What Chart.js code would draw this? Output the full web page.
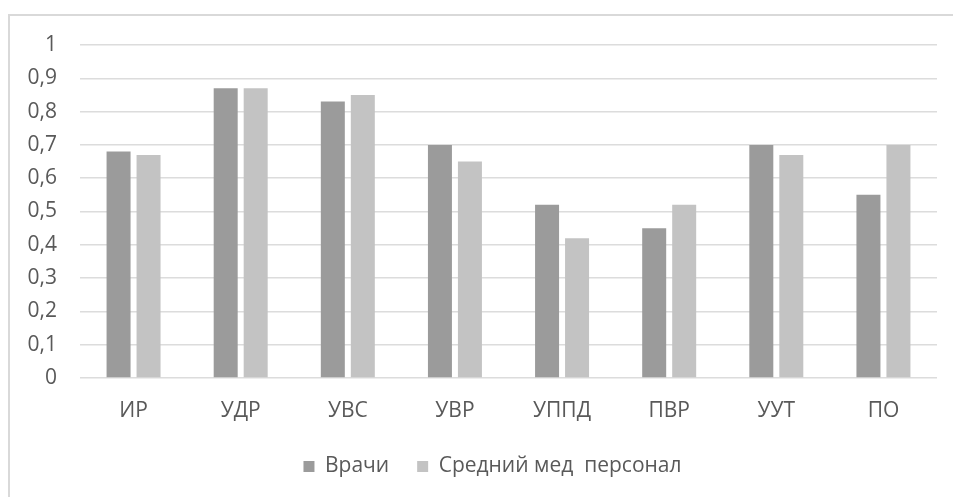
<!DOCTYPE html>
<html>
<head>
<meta charset="utf-8">
<script src="https://cdn.jsdelivr.net/npm/chart.js@4/dist/chart.umd.min.js"></script>
<style>
  html, body { margin: 0; padding: 0; background: #fff; overflow: hidden; }
  #frame {
    position: absolute; left: 8px; top: 14px; width: 960px; height: 520px;
    border: 2px solid #d9d9d9; box-sizing: border-box;
  }
  #wrap { position: absolute; left: 0; top: 0; width: 953px; height: 497px; }
</style>
</head>
<body>
<div id="frame"></div>
<div id="wrap"><canvas id="chart"></canvas></div>
<script>
// categories and the two staff groups
const categories = ['ИР', 'УДР', 'УВС', 'УВР', 'УППД', 'ПВР', 'УУТ', 'ПО'];
const doctors = [0.68, 0.87, 0.83, 0.70, 0.52, 0.45, 0.70, 0.55];
const nurses = [0.67, 0.87, 0.85, 0.65, 0.42, 0.52, 0.67, 0.70];
const yTicks = [0, 0.1, 0.2, 0.3, 0.4, 0.5, 0.6, 0.7, 0.8, 0.9, 1];

const textColor = '#595959';
const font = { family: "'Open Sans', sans-serif", size: 21 };

// centre the legend under the plot area rather than the whole canvas
const legendShift = {
    id: 'legendShift',
    afterLayout(chart) {
        const dx = ((chart.chartArea.left + chart.chartArea.right) - (chart.legend.left + chart.legend.right)) / 2 - 16;
        chart.legend.left += dx;
        chart.legend.right += dx;
    }
};

new Chart(document.getElementById('chart'), {
    type: 'bar',
    data: {
        labels: categories,
        datasets: [
            {
                label: 'Врачи',
                data: doctors,
                backgroundColor: '#9b9b9b',
                barPercentage: 0.8,
                categoryPercentage: 0.56
            },
            {
                label: 'Средний мед  персонал',
                data: nurses,
                backgroundColor: '#c3c3c3',
                barPercentage: 0.8,
                categoryPercentage: 0.56
            }
        ]
    },
    plugins: [legendShift],
    options: {
        responsive: true,
        maintainAspectRatio: false,
        animation: false,
        layout: {
            padding: { left: 10, right: 16, top: 45, bottom: 10 }
        },
        plugins: {
            tooltip: { enabled: false },
            legend: {
                position: 'bottom',
                labels: {
                    color: textColor,
                    font: font,
                    boxWidth: 11,
                    boxHeight: 11,
                    padding: 28
                }
            }
        },
        scales: {
            x: {
                grid: { display: false },
                border: { display: false },
                ticks: { color: textColor, font: font, padding: 12 },
                afterFit: function(scale) { scale.height = 50; }
            },
            y: {
                min: 0,
                max: 1,
                afterBuildTicks: function(scale) {
                    scale.ticks = yTicks.map(v => ({ value: v }));
                },
                grid: { color: '#dcdcdc', lineWidth: 1.5, drawTicks: false },
                border: { display: false },
                ticks: {
                    color: textColor,
                    font: font,
                    padding: 23,
                    callback: v => String(Math.round(v * 10) / 10).replace('.', ',')
                },
                afterFit: function(scale) { scale.width = 70; }
            }
        }
    }
});
</script>
</body>
</html>
